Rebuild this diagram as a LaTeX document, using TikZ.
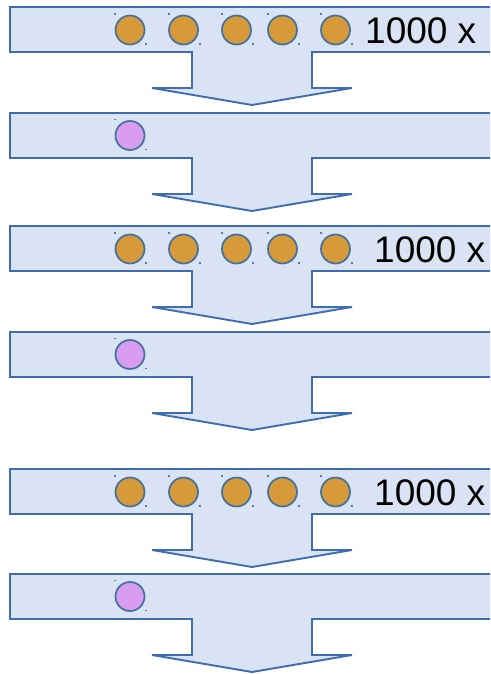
\documentclass[tikz,border=0pt]{standalone}
\usepackage{fontspec}
\setmainfont{Liberation Sans}
\definecolor{barfill}{HTML}{DAE3F3}
\definecolor{baredge}{HTML}{3E6DB2}
\definecolor{dotedge}{HTML}{41719C}
\definecolor{orangedot}{HTML}{D69A3B}
\definecolor{violetdot}{HTML}{D99DF0}
\definecolor{handle}{HTML}{5A7BA8}
\begin{document}
\begin{tikzpicture}[x=1pt,y=-1pt,
  stagebar/.style={draw=baredge,fill=barfill,line width=1.9pt,line join=miter},
  token/.style={circle,draw=dotedge,line width=1.7pt,minimum size=29pt,inner sep=0pt},
  work/.style={token,fill=orangedot},
  result/.style={token,fill=violetdot},
  grip/.style={draw=handle,line width=1.2pt},
  count/.style={anchor=base west,inner sep=0pt,font=\fontsize{37}{41}\selectfont}]
\useasboundingbox (0,0) rectangle (490,674);
\clip (0,0) rectangle (490,674);
% six stages: a horizontal bar with a downward block arrow beneath it
\foreach \t in {7,113,226,332,469,574} {
  \pgfmathsetmacro\b{\t+45}
  \pgfmathsetmacro\w{\t+81}
  \pgfmathsetmacro\p{\t+98}
  \draw[stagebar] (10,\t) -- (500,\t) -- (500,\b) -- (312,\b) -- (312,\w)
    -- (352,\w) -- (252,\p) -- (152,\w) -- (192,\w) -- (192,\b) -- (10,\b) -- cycle;
}
% stages with five work items and a repeat count
\foreach \t/\k/\tx in {7/a/365,226/c/374,469/e/374} {
  \pgfmathsetmacro\cy{\t+23}
  \foreach \cx [count=\j] in {130,183.5,236.5,282.5,335.5} {
    \node[work] (\k\j) at (\cx,\cy) {};
    \draw[grip] (\cx-16,\cy-16) -- (\cx-14,\cy-16);
    \draw[grip] (\cx+15,\cy+14) -- (\cx+17,\cy+14);
  }
  \node[count] (\k n) at (\tx,\t+36.3) {1000 x};
}
% stages with a single result item
\foreach \t/\k in {113/b,332/d,574/f} {
  \pgfmathsetmacro\cy{\t+22.5}
  \node[result] (\k1) at (130,\cy) {};
  \draw[grip] (114,\cy-16) -- (116,\cy-16);
  \draw[grip] (145,\cy+14) -- (147,\cy+14);
}
\end{tikzpicture}
\end{document}
